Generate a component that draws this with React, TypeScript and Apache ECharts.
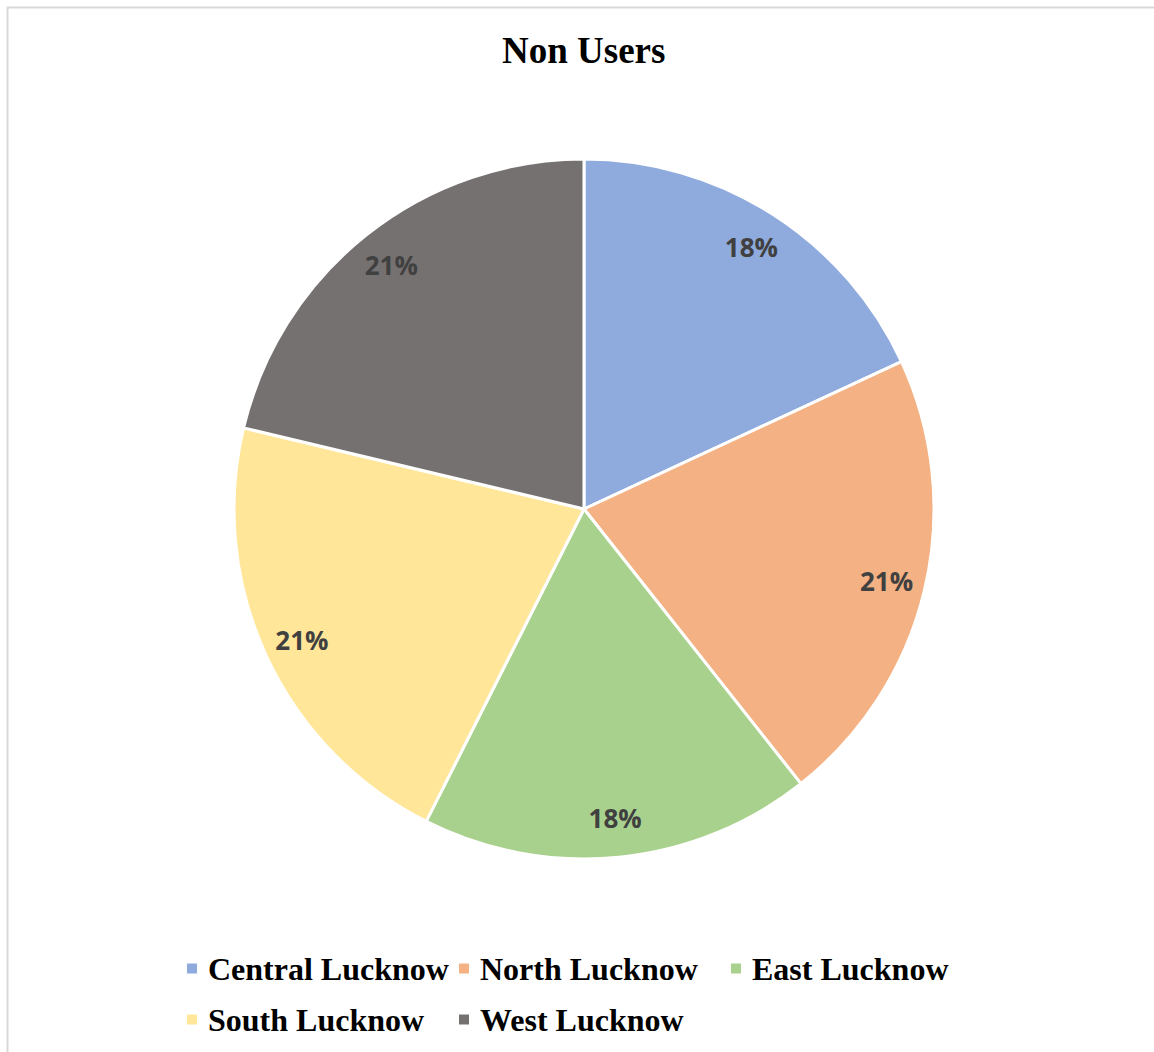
import React, { useEffect, useRef } from "react";
import * as echarts from "echarts";

const categories = ["Central Lucknow", "North Lucknow", "East Lucknow", "South Lucknow", "West Lucknow"];
const values = [17, 20, 17, 20, 20];
const colors = ["#8FAADC", "#F4B183", "#A9D18E", "#FFE699", "#767171"];
const titleText = "Non Users";

export default function App() {
  const ref = useRef<HTMLDivElement>(null);
  useEffect(() => {
    if (!ref.current) return;
    const chart = echarts.init(ref.current, undefined, { renderer: "svg" });
    const total = values.reduce((a, b) => a + b, 0);
    const data = categories.map((name, i) => ({ name, value: values[i], itemStyle: { color: colors[i] } }));
    chart.setOption({
      animation: false,
      backgroundColor: "#ffffff",
      title: {
        text: titleText,
        left: 497,
        top: 27,
        textStyle: { fontFamily: "Liberation Serif", fontWeight: "bold", fontSize: 37, color: "#000000" },
      },
      graphic: [
        {
          type: "rect",
          shape: { x: 7.5, y: 7.5, width: 1300, height: 1300 },
          style: { fill: "none", stroke: "#D9D9D9", lineWidth: 2 },
          silent: true,
        },
      ],
      legend: {
        left: 180,
        top: 938,
        width: 840,
        orient: "horizontal",
        itemGap: 0,
        itemWidth: 12,
        itemHeight: 12,
        icon: "rect",
        data: categories.map((name, i) => ({ name, itemStyle: { color: colors[i] } })),
        textStyle: {
          fontFamily: "Liberation Serif",
          fontWeight: "bold",
          fontSize: 32,
          color: "#000000",
          width: 249,
          lineHeight: 51,
          padding: [0, 0, 0, 5],
        },
      },
      series: [
        {
          type: "pie",
          center: [584, 509],
          radius: [0, 350],
          startAngle: 90,
          clockwise: true,
          data,
          label: { show: false },
          labelLine: { show: false },
          itemStyle: { borderColor: "#ffffff", borderWidth: 3 },
          silent: true,
        },
        {
          type: "pie",
          center: [584, 509],
          radius: [266, 350],
          startAngle: 90,
          clockwise: true,
          data: categories.map((name, i) => ({ name, value: values[i], itemStyle: { color: "rgba(0,0,0,0)" } })),
          itemStyle: { borderWidth: 0 },
          labelLine: { show: false },
          label: {
            show: true,
            position: "inside",
            formatter: (p: any) => Math.round((p.value / total) * 100) + "%",
            fontFamily: "Open Sans",
            fontWeight: "bold",
            fontSize: 26,
            color: "#404040",
          },
          silent: true,
        },
      ],
    });
    return () => chart.dispose();
  }, []);
  return <div ref={ref} style={{ position: "absolute", left: 0, top: 0, width: 1154, height: 1052 }} />;
}
